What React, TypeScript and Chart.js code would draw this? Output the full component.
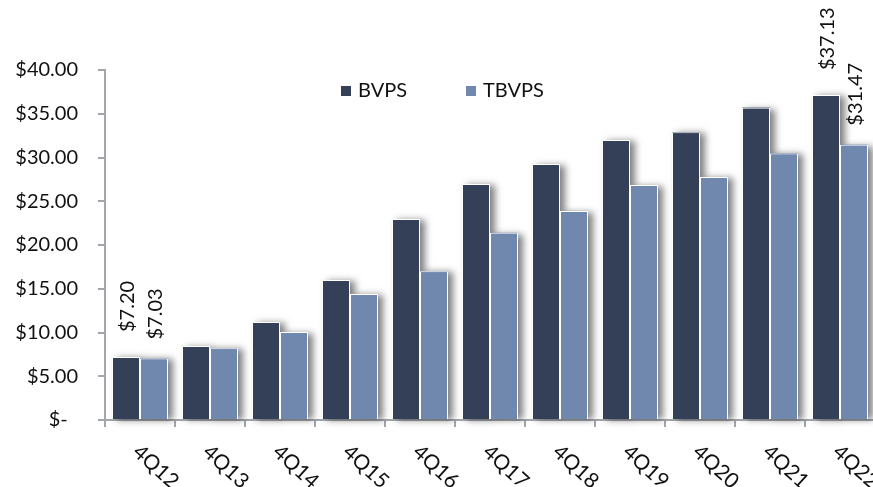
import React, { useEffect, useRef } from "react";
import { Chart, registerables } from "chart.js";

Chart.register(...registerables);

// Per-share book value history, year-end quarters
const quarters = ["4Q12", "4Q13", "4Q14", "4Q15", "4Q16", "4Q17", "4Q18", "4Q19", "4Q20", "4Q21", "4Q22"];
const bvps = [7.2, 8.46, 11.2, 16.0, 22.97, 26.97, 29.26, 32.0, 32.9, 35.7, 37.13];
const tbvps = [7.03, 8.2, 10.06, 14.4, 17.0, 21.4, 23.9, 26.86, 27.77, 30.47, 31.47];
const seriesNames = ["BVPS", "TBVPS"];
const yTickValues = [0, 5, 10, 15, 20, 25, 30, 35, 40];
// Bars whose value is printed above them
const labelledIndices = [0, 10];

const DARK = "#343f58";
const LIGHT = "#7087ae";
const AXIS = "#a3a6ab";
const TEXT = "#111111";
const FONT_FAMILY = 'Lato, "Open Sans", sans-serif';
const FONT_SIZE = 20;

const money = (v: number) => (v === 0 ? "$-  " : "$" + v.toFixed(2));

// Soft drop shadow painted behind every bar before the bars themselves
const barShadow = {
  id: "barShadow",
  beforeDatasetsDraw(chart: any) {
    const ctx = chart.ctx;
    chart.data.datasets.forEach((ds: any, di: number) => {
      const meta = chart.getDatasetMeta(di);
      meta.data.forEach((el: any) => {
        const { x, y, base, width } = el.getProps(["x", "y", "base", "width"], true);
        ctx.save();
        ctx.shadowColor = "rgba(0,0,0,0.5)";
        ctx.shadowBlur = 7;
        ctx.shadowOffsetX = 5;
        ctx.shadowOffsetY = 1;
        ctx.fillStyle = ds.backgroundColor;
        ctx.fillRect(x - width / 2, y, width, base - y);
        ctx.restore();
      });
    });
  },
};

// Vertical value labels above the first and last groups
const valueLabels = {
  id: "valueLabels",
  afterDatasetsDraw(chart: any) {
    const ctx = chart.ctx;
    const gaps = [25, 19];
    chart.data.datasets.forEach((ds: any, di: number) => {
      const meta = chart.getDatasetMeta(di);
      labelledIndices.forEach((i) => {
        const el = meta.data[i];
        if (!el) return;
        const { x, y } = el.getProps(["x", "y"], true);
        ctx.save();
        ctx.translate(x + 2, y - gaps[di]);
        ctx.rotate(-Math.PI / 2);
        ctx.font = `${FONT_SIZE}px ${FONT_FAMILY}`;
        ctx.fillStyle = TEXT;
        ctx.textAlign = "left";
        ctx.textBaseline = "middle";
        ctx.fillText(money(ds.data[i]), 0, 0);
        ctx.restore();
      });
    });
  },
};

// Category labels slanted downwards to the right, starting under each group
const slantedCategories = {
  id: "slantedCategories",
  afterDraw(chart: any) {
    const ctx = chart.ctx;
    const xScale = chart.scales.x;
    const top = xScale.top + 21;
    chart.data.labels.forEach((label: string, i: number) => {
      const px = xScale.getPixelForValue(i);
      ctx.save();
      ctx.translate(px + 3, top);
      ctx.rotate((42 * Math.PI) / 180);
      ctx.font = `21px ${FONT_FAMILY}`;
      ctx.fillStyle = TEXT;
      ctx.textAlign = "left";
      ctx.textBaseline = "top";
      ctx.fillText(label, 0, 0);
      ctx.restore();
    });
  },
};

// Legend sitting inside the plot area near the top
const innerLegend = {
  id: "innerLegend",
  afterDraw(chart: any) {
    const ctx = chart.ctx;
    const area = chart.chartArea;
    const startX = area.left + 236;
    const rowY = area.top + 21;
    const itemStep = 125;
    ctx.save();
    ctx.font = `${FONT_SIZE}px ${FONT_FAMILY}`;
    ctx.textBaseline = "middle";
    ctx.textAlign = "left";
    chart.data.datasets.forEach((ds: any, di: number) => {
      const x = startX + di * itemStep;
      ctx.fillStyle = ds.backgroundColor;
      ctx.fillRect(x, rowY - 5, 10, 10);
      ctx.fillStyle = TEXT;
      ctx.fillText(ds.label, x + 17, rowY);
    });
    ctx.restore();
  },
};

export default function App() {
  const canvasRef = useRef<HTMLCanvasElement | null>(null);

  useEffect(() => {
    if (!canvasRef.current) return;
    const font = { family: FONT_FAMILY, size: FONT_SIZE };
    const chart = new Chart(canvasRef.current, {
      type: "bar",
      data: {
        labels: quarters,
        datasets: [
          { label: seriesNames[0], data: bvps, backgroundColor: DARK, borderColor: "#ffffff", borderWidth: 1 },
          { label: seriesNames[1], data: tbvps, backgroundColor: LIGHT, borderColor: "#ffffff", borderWidth: 1 },
        ],
      },
      options: {
        responsive: false,
        animation: false,
        devicePixelRatio: 1,
        layout: { padding: { top: 70, right: 10, left: 0, bottom: 0 } },
        datasets: { bar: { categoryPercentage: 0.8, barPercentage: 1 } },
        plugins: { legend: { display: false }, tooltip: { enabled: false } },
        scales: {
          x: {
            grid: { offset: true, drawOnChartArea: false, drawTicks: true, tickLength: 7, color: AXIS, lineWidth: 2 },
            border: { color: AXIS, width: 2 },
            ticks: { display: false },
            afterFit: (s: any) => {
              s.height = 67;
            },
          },
          y: {
            min: 0,
            max: 40,
            afterBuildTicks: (s: any) => {
              s.ticks = yTickValues.map((v) => ({ value: v }));
            },
            grid: { drawOnChartArea: false, drawTicks: true, tickLength: 7, color: AXIS, lineWidth: 2 },
            border: { color: AXIS, width: 2 },
            ticks: {
              padding: 20,
              color: TEXT,
              font,
              callback: (v: any) => money(Number(v)),
            },
            afterFit: (s: any) => {
              s.width = 105;
            },
          },
        },
      } as any,
      plugins: [barShadow, valueLabels, slantedCategories, innerLegend],
    });
    return () => chart.destroy();
  }, []);

  return (
    <div
      style={{
        position: "fixed",
        left: 0,
        top: 0,
        width: 873,
        height: 487,
        overflow: "hidden",
        background: "#ffffff",
      }}
    >
      <canvas ref={canvasRef} width={885} height={487} style={{ display: "block" }} />
    </div>
  );
}
